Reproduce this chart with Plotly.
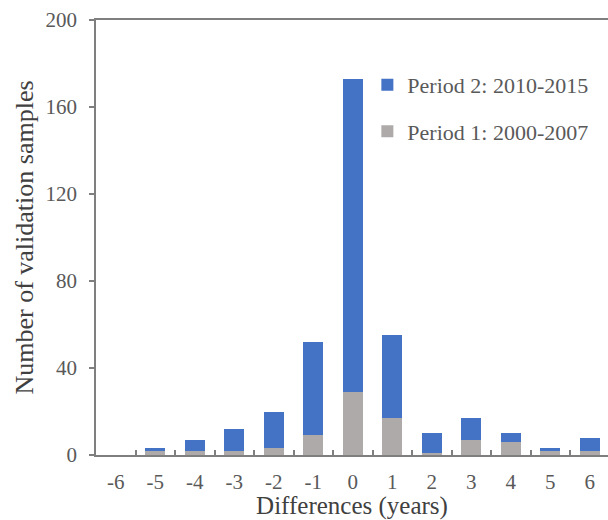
import plotly.graph_objects as go

categories = ["-6", "-5", "-4", "-3", "-2", "-1", "0", "1", "2", "3", "4", "5", "6"]
period1 = [0, 2, 2, 2, 3, 9, 29, 17, 1, 7, 6, 2, 2]
period2 = [0, 1, 5, 10, 17, 43, 144, 38, 9, 10, 4, 1, 6]

blue = "#4472C4"
gray = "#AEAAAA"
font_family = "Liberation Serif, Times New Roman, serif"

fig = go.Figure()
fig.add_trace(go.Bar(x=categories, y=period1, name="Period 1: 2000-2007",
                     marker=dict(color=gray, line=dict(width=0)),
                     legendgroup="p1", legendrank=2))
fig.add_trace(go.Bar(x=categories, y=period2, name="Period 2: 2010-2015",
                     marker=dict(color=blue, line=dict(width=0)),
                     legendgroup="p2", legendrank=1))

fig.update_layout(
    width=608, height=520,
    margin=dict(l=96, r=0, t=20, b=65),
    barmode="stack", bargap=0.5,
    plot_bgcolor="white", paper_bgcolor="white",
    font=dict(family=font_family, size=21, color="#404040"),
    legend=dict(x=0.53, y=0.899, xanchor="left", yanchor="top",
                traceorder="grouped", tracegroupgap=15,
                font=dict(size=22, color="#595959"),
                bgcolor="rgba(0,0,0,0)"),
    showlegend=True,
)
fig.update_xaxes(
    type="category", range=[-0.5, 12.46],
    showline=True, linecolor="#7f7f7f", linewidth=1.5, mirror=True,
    ticks="inside", tickson="boundaries", ticklen=5, tickcolor="#7f7f7f", tickwidth=1.5,
    tickfont=dict(size=21, color="#595959"), ticklabelstandoff=7,
    title=dict(text="Differences (years)", font=dict(size=25, color="#404040"), standoff=2),
    showgrid=False, zeroline=False,
)
fig.update_yaxes(
    range=[0, 200], tickvals=[0, 40, 80, 120, 160, 200],
    showline=True, linecolor="#7f7f7f", linewidth=1.5,
    ticks="outside", ticklen=5, tickcolor="#7f7f7f", tickwidth=1.5,
    tickfont=dict(size=21, color="#595959"), ticklabelstandoff=8,
    title=dict(text="Number of validation samples", font=dict(size=26, color="#404040"), standoff=4),
    showgrid=False, zeroline=False,
)

fig.write_html("out.html", config={"displayModeBar": False},
               post_script="document.body.style.margin='0px';document.body.style.overflow='hidden';")
